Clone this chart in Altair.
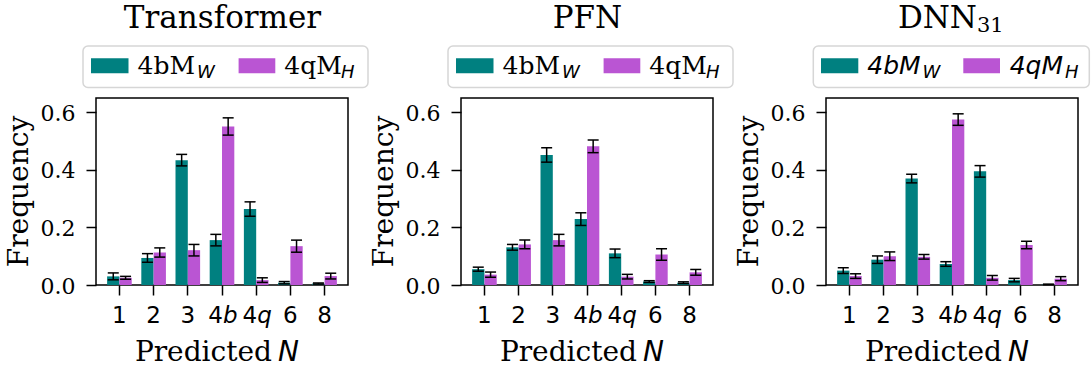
import altair as alt
import pandas as pd

categories = ["1", "2", "3", "4b", "4q", "6", "8"]
series = ["4bM_W", "4qM_H"]
models = ["Transformer", "PFN", "DNN31"]
y_ticks = [0.0, 0.2, 0.4, 0.6]

tr_w = [0.030, 0.094, 0.434, 0.156, 0.264, 0.008, 0.005]
tr_w_err = [0.012, 0.015, 0.020, 0.020, 0.025, 0.004, 0.002]
tr_h = [0.025, 0.113, 0.121, 0.551, 0.017, 0.135, 0.031]
tr_h_err = [0.005, 0.016, 0.020, 0.030, 0.008, 0.021, 0.010]

pfn_w = [0.055, 0.131, 0.452, 0.229, 0.110, 0.012, 0.008]
pfn_w_err = [0.007, 0.010, 0.025, 0.022, 0.015, 0.003, 0.003]
pfn_h = [0.036, 0.141, 0.156, 0.482, 0.029, 0.106, 0.044]
pfn_h_err = [0.009, 0.015, 0.020, 0.022, 0.008, 0.020, 0.010]

dnn_w = [0.050, 0.088, 0.370, 0.073, 0.395, 0.017, 0.002]
dnn_w_err = [0.010, 0.013, 0.015, 0.008, 0.020, 0.006, 0.001]
dnn_h = [0.031, 0.100, 0.098, 0.575, 0.025, 0.139, 0.022]
dnn_h_err = [0.008, 0.015, 0.008, 0.020, 0.008, 0.013, 0.007]

model_data = {
    "Transformer": (tr_w, tr_w_err, tr_h, tr_h_err),
    "PFN": (pfn_w, pfn_w_err, pfn_h, pfn_h_err),
    "DNN31": (dnn_w, dnn_w_err, dnn_h, dnn_h_err),
}

rows = []
for m in models:
    wv, we, hv, he = model_data[m]
    for vals, errs, s in ((wv, we, series[0]), (hv, he, series[1])):
        for c, v, e in zip(categories, vals, errs):
            rows.append(dict(model=m, cat=c, series=s, value=v, lo=v - e, hi=v + e))
df = pd.DataFrame(rows)

lab = pd.DataFrame({
    "cat": categories,
    "num": [c.rstrip("bq") for c in categories],
    "suf": [c[len(c.rstrip("bq")):] for c in categories],
})
ylab = pd.DataFrame({"value": y_ticks, "label": ["%.1f" % v for v in y_ticks]})
one = pd.DataFrame({"k": [0]})

W, H = 252, 187
TEAL = "#008080"
ORCHID = "#BA55D3"
SERIF = "DejaVu Serif"
SANS = "DejaVu Sans"

xscale = alt.Scale(domain=categories, paddingInner=0.28, paddingOuter=0.325)
xaxis = alt.Axis(labels=False, title=None, ticks=True, tickSize=10, tickWidth=1.5,
                 tickColor="black", domain=False, grid=False)
yscale = alt.Scale(domain=[0, 0.65], nice=False, zero=True)
yaxis = alt.Axis(values=y_ticks, labels=False, title=None, grid=False, domain=False,
                 tickSize=10, tickWidth=1.5, tickColor="black")


def xe():
    return alt.X("cat:N", sort=categories, scale=xscale, axis=xaxis)


def xoe():
    return alt.XOffset("series:N", sort=series,
                       scale=alt.Scale(domain=series, paddingInner=0, paddingOuter=0))


def ye(f):
    return alt.Y(f + ":Q", scale=yscale, axis=yaxis)


def panel(name, title_main, title_sub, italic_legend, leg):
    d = df[df.model == name]
    base = alt.Chart(d)
    bars = base.mark_bar(opacity=1).encode(
        x=xe(), xOffset=xoe(), y=ye("value"),
        color=alt.Color("series:N", scale=alt.Scale(domain=series, range=[TEAL, ORCHID]),
                        legend=None))
    rule = base.mark_rule(color="black", strokeWidth=1.5).encode(
        x=xe(), xOffset=xoe(), y=ye("lo"), y2="hi:Q")
    cap_lo = base.mark_tick(color="black", thickness=1.5, size=11, opacity=1).encode(
        x=xe(), xOffset=xoe(), y=ye("lo"))
    cap_hi = base.mark_tick(color="black", thickness=1.5, size=11, opacity=1).encode(
        x=xe(), xOffset=xoe(), y=ye("hi"))

    # x tick labels (italic letter part for 4b / 4q)
    lb = alt.Chart(lab)
    lab_plain = lb.transform_filter("datum.suf == ''").mark_text(
        font=SANS, fontSize=23, align="center", baseline="alphabetic", color="black").encode(
        x=xe(), text="num:N", y=alt.value(H + 38))
    lab_num = lb.transform_filter("datum.suf != ''").mark_text(
        font=SANS, fontSize=23, align="right", baseline="alphabetic", color="black", dx=1).encode(
        x=xe(), text="num:N", y=alt.value(H + 38))
    lab_suf = lb.transform_filter("datum.suf != ''").mark_text(
        font=SANS, fontSize=23, fontStyle="italic", align="left", baseline="alphabetic",
        color="black", dx=1).encode(x=xe(), text="suf:N", y=alt.value(H + 38))

    # y tick labels (serif)
    ylabels = alt.Chart(ylab).mark_text(
        font=SERIF, fontSize=22, align="right", baseline="alphabetic", color="black",
        dy=8.5).encode(y=ye("value"), text="label:N", x=alt.value(-20.5))

    o = alt.Chart(one)
    xt1 = o.mark_text(font=SERIF, fontSize=28, align="right", baseline="alphabetic",
                      color="black", text="Predicted").encode(
        x=alt.value(176), y=alt.value(H + 76))
    xt2 = o.mark_text(font=SANS, fontSize=28, fontStyle="italic", align="left",
                      baseline="alphabetic", color="black", text="N").encode(
        x=alt.value(182), y=alt.value(H + 76))
    yt = o.mark_text(font=SERIF, fontSize=28, align="center", baseline="alphabetic",
                     color="black", angle=270, text="Frequency").encode(
        x=alt.value(-68.5), y=alt.value(H / 2))

    layers = [bars, rule, cap_lo, cap_hi, lab_plain, lab_num, lab_suf, ylabels, xt1, xt2, yt]

    # panel title
    if title_sub:
        layers.append(o.mark_text(font=SERIF, fontSize=31, align="right", baseline="alphabetic",
                                  color="black", text=title_main).encode(
            x=alt.value(151), y=alt.value(-70.5)))
        layers.append(o.mark_text(font=SERIF, fontSize=21, align="left", baseline="alphabetic",
                                  color="black", text=title_sub).encode(
            x=alt.value(151), y=alt.value(-66)))
    else:
        layers.append(o.mark_text(font=SERIF, fontSize=31, align="center", baseline="alphabetic",
                                  color="black", text=title_main).encode(
            x=alt.value(126.5), y=alt.value(-70.5)))

    # legend
    layers.append(o.mark_rect(fill="white", stroke="#d6d6d6", strokeWidth=1.5,
                              cornerRadius=5).encode(
        x=alt.value(leg["box"][0]), x2=alt.value(leg["box"][1]),
        y=alt.value(-52), y2=alt.value(-10.5)))
    mainfont = SANS if italic_legend else SERIF
    mainstyle = "italic" if italic_legend else "normal"
    for col, mains, subs, px, tx, sx in (
        (TEAL, "4bM", "W", leg["p1"], leg["t1"], leg["s1"]),
        (ORCHID, "4qM", "H", leg["p2"], leg["t2"], leg["s2"]),
    ):
        layers.append(o.mark_rect(fill=col).encode(
            x=alt.value(px[0]), x2=alt.value(px[1]), y=alt.value(-39.7), y2=alt.value(-24.7)))
        layers.append(o.mark_text(font=mainfont, fontStyle=mainstyle, fontSize=25, align="left",
                                  baseline="alphabetic", color="black", text=mains).encode(
            x=alt.value(tx), y=alt.value(-24.4)))
        layers.append(o.mark_text(font=SANS, fontStyle="italic", fontSize=18, align="left",
                                  baseline="alphabetic", color="black", text=subs).encode(
            x=alt.value(sx), y=alt.value(-20.5)))

    return alt.layer(*layers).properties(width=W, height=H)


leg12 = dict(box=(-13, 272), p1=(-5, 32.5), t1=41.5, s1=101, p2=(142.6, 179.3),
             t2=188.3, s2=245)
leg3 = dict(box=(-12.7, 263.3), p1=(-5, 32.3), t1=41.3, s1=96.5, p2=(137.3, 174),
            t2=183.7, s2=239)

p1 = panel("Transformer", "Transformer", None, False, leg12)
p2 = panel("PFN", "PFN", None, False, leg12)
p3 = panel("DNN31", "DNN", "31", True, leg3)

chart = alt.hconcat(p1, p2, p3, spacing=113, bounds="flush").properties(
    padding={"left": 4, "top": 1, "right": 0, "bottom": 0}
).configure_view(stroke="black", strokeWidth=1.5)

chart.save("out.html", embed_options={"renderer": "svg", "actions": False})
